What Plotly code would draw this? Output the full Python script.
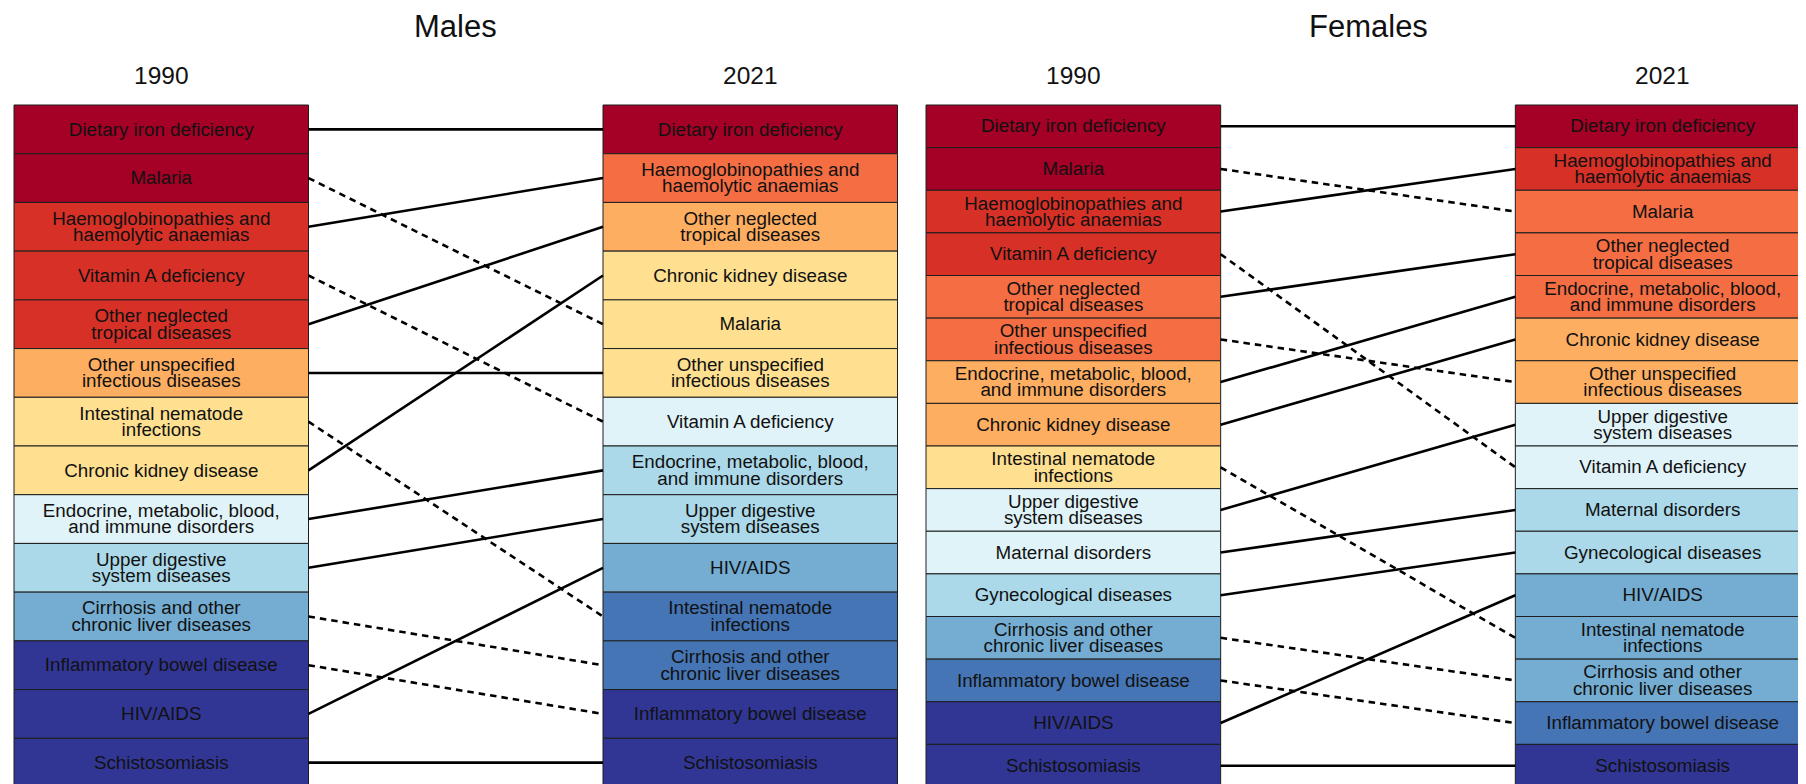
import plotly.graph_objects as go

# ---------------- data ----------------
PALETTE = ["#A50026", "#D73027", "#F46D43", "#FDAE61", "#FEE090",
           "#E0F3F8", "#ABD9E9", "#74ADD1", "#4575B4", "#313695"]

male_1990 = [
    "Dietary iron deficiency", "Malaria", "Haemoglobinopathies and<br>haemolytic anaemias",
    "Vitamin A deficiency", "Other neglected<br>tropical diseases",
    "Other unspecified<br>infectious diseases", "Intestinal nematode<br>infections",
    "Chronic kidney disease", "Endocrine, metabolic, blood,<br>and immune disorders",
    "Upper digestive<br>system diseases", "Cirrhosis and other<br>chronic liver diseases",
    "Inflammatory bowel disease", "HIV/AIDS", "Schistosomiasis",
]
male_1990_bin = [0, 0, 1, 1, 1, 3, 4, 4, 5, 6, 7, 9, 9, 9]

male_2021 = [
    "Dietary iron deficiency", "Haemoglobinopathies and<br>haemolytic anaemias",
    "Other neglected<br>tropical diseases", "Chronic kidney disease", "Malaria",
    "Other unspecified<br>infectious diseases", "Vitamin A deficiency",
    "Endocrine, metabolic, blood,<br>and immune disorders", "Upper digestive<br>system diseases",
    "HIV/AIDS", "Intestinal nematode<br>infections", "Cirrhosis and other<br>chronic liver diseases",
    "Inflammatory bowel disease", "Schistosomiasis",
]
male_2021_bin = [0, 2, 3, 4, 4, 4, 5, 6, 6, 7, 8, 8, 9, 9]

female_1990 = [
    "Dietary iron deficiency", "Malaria", "Haemoglobinopathies and<br>haemolytic anaemias",
    "Vitamin A deficiency", "Other neglected<br>tropical diseases",
    "Other unspecified<br>infectious diseases", "Endocrine, metabolic, blood,<br>and immune disorders",
    "Chronic kidney disease", "Intestinal nematode<br>infections",
    "Upper digestive<br>system diseases", "Maternal disorders", "Gynecological diseases",
    "Cirrhosis and other<br>chronic liver diseases", "Inflammatory bowel disease",
    "HIV/AIDS", "Schistosomiasis",
]
female_1990_bin = [0, 0, 1, 1, 2, 2, 3, 3, 4, 5, 5, 6, 7, 8, 9, 9]

female_2021 = [
    "Dietary iron deficiency", "Haemoglobinopathies and<br>haemolytic anaemias", "Malaria",
    "Other neglected<br>tropical diseases", "Endocrine, metabolic, blood,<br>and immune disorders",
    "Chronic kidney disease", "Other unspecified<br>infectious diseases",
    "Upper digestive<br>system diseases", "Vitamin A deficiency", "Maternal disorders",
    "Gynecological diseases", "HIV/AIDS", "Intestinal nematode<br>infections",
    "Cirrhosis and other<br>chronic liver diseases", "Inflammatory bowel disease",
    "Schistosomiasis",
]
female_2021_bin = [0, 1, 2, 2, 2, 3, 3, 5, 5, 6, 6, 7, 7, 7, 8, 9]

panel_titles = ["Males", "Females"]
year_labels = ["1990", "2021"]

# ---------------- layout constants ----------------
W, H = 1806, 784
SHIFT = 8                       # page body margin offset
BOX_TOP, BOX_BOTTOM = 105 - SHIFT, 787 - SHIFT
SPLIT = 902
FONT = "Liberation Sans, Arial, Helvetica, sans-serif"
LABEL_SIZE = 18.8
LINE_GAP_PX = 8.2
TEXT_DROP_PX = 1.5

panels = [
    dict(title=panel_titles[0], a=male_1990, ab=male_1990_bin, b=male_2021, bb=male_2021_bin,
         left=14 - SHIFT, unit=294.5, dom=[0, SPLIT / W], xa="x", ya="y", xname="xaxis", yname="yaxis"),
    dict(title=panel_titles[1], a=female_1990, ab=female_1990_bin, b=female_2021, bb=female_2021_bin,
         left=926 - SHIFT, unit=294.67, dom=[SPLIT / W, 1], xa="x2", ya="y2", xname="xaxis2", yname="yaxis2"),
]

fig = go.Figure()
shapes = []
annotations = []
layout_axes = {}

for p in panels:
    n = len(p["a"])
    rh = (BOX_BOTTOM - BOX_TOP) / n
    px0 = p["dom"][0] * W
    px1 = p["dom"][1] * W
    layout_axes[p["xname"]] = dict(domain=p["dom"], range=[(px0 - p["left"]) / p["unit"], (px1 - p["left"]) / p["unit"]],
                                   visible=False, fixedrange=True, anchor=p["ya"])
    layout_axes[p["yname"]] = dict(domain=[0, 1], range=[(H - BOX_TOP) / rh, -BOX_TOP / rh],
                                   visible=False, fixedrange=True, anchor=p["xa"])
    off = LINE_GAP_PX / rh
    drop = TEXT_DROP_PX / rh

    # boxes + labels
    tx, ty, tt = [], [], []
    for col, (names, bins) in enumerate([(p["a"], p["ab"]), (p["b"], p["bb"])]):
        xc = 0 if col == 0 else 2
        for r, (nm, b) in enumerate(zip(names, bins)):
            shapes.append(dict(type="rect", xref=p["xa"], yref=p["ya"], x0=xc, x1=xc + 1, y0=r, y1=r + 1,
                               fillcolor=PALETTE[b], line=dict(color="#1e1e1e", width=1), layer="below"))
            parts = nm.split("<br>")
            if len(parts) == 1:
                tx.append(xc + 0.5); ty.append(r + 0.5 + drop); tt.append(parts[0])
            else:
                tx += [xc + 0.5, xc + 0.5]
                ty += [r + 0.5 - off + drop, r + 0.5 + off + drop]
                tt += parts
    fig.add_trace(go.Scatter(x=tx, y=ty, text=tt, mode="text", xaxis=p["xa"], yaxis=p["ya"],
                             textfont=dict(family=FONT, size=LABEL_SIZE, color="#111111"),
                             hoverinfo="skip", showlegend=False, cliponaxis=False))

    # connectors
    sx, sy, dx, dy = [], [], [], []
    for r1, nm in enumerate(p["a"]):
        r2 = p["b"].index(nm)
        if r2 <= r1:
            sx += [1, 2, None]; sy += [r1 + 0.5, r2 + 0.5, None]
        else:
            dx += [1, 2, None]; dy += [r1 + 0.5, r2 + 0.5, None]
    fig.add_trace(go.Scatter(x=sx, y=sy, mode="lines", xaxis=p["xa"], yaxis=p["ya"],
                             line=dict(color="black", width=2.6), hoverinfo="skip", showlegend=False))
    fig.add_trace(go.Scatter(x=dx, y=dy, mode="lines", xaxis=p["xa"], yaxis=p["ya"],
                             line=dict(color="black", width=2.6, dash="6.5px,5px"),
                             hoverinfo="skip", showlegend=False))

    # titles
    annotations.append(dict(text=p["title"], x=1.5, xref=p["xa"], y=1 - (26 - SHIFT) / H, yref="paper",
                            showarrow=False, xanchor="center", yanchor="middle",
                            font=dict(family=FONT, size=31, color="#111111")))
    for xc, yl in zip([0.5, 2.5], year_labels):
        annotations.append(dict(text=yl, x=xc, xref=p["xa"], y=1 - (75 - SHIFT) / H, yref="paper",
                                showarrow=False, xanchor="center", yanchor="middle",
                                font=dict(family=FONT, size=24.5, color="#111111")))

fig.update_layout(
    width=W, height=H, margin=dict(l=0, r=0, t=0, b=0),
    paper_bgcolor="white", plot_bgcolor="white",
    shapes=shapes, annotations=annotations, showlegend=False,
    **layout_axes,
)

fig.write_html("out.html")
